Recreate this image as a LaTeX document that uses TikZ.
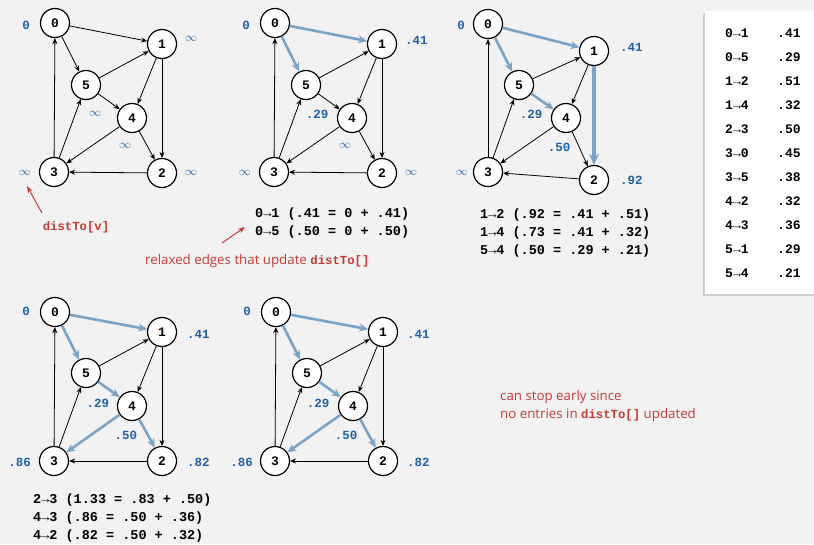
\documentclass[tikz,border=0pt]{standalone}
\usepackage{fontspec}
\setmainfont{Open Sans}
\setmonofont{Liberation Mono}
\usetikzlibrary{arrows.meta, shadows}
\definecolor{bggray}{RGB}{242,242,242}
\definecolor{sptblue}{RGB}{122,163,200}
\definecolor{distblue}{RGB}{30,98,168}
\definecolor{notered}{RGB}{196,58,52}
\newcommand{\codered}[1]{{\fontsize{12.3}{12.3}\selectfont\ttfamily\bfseries #1}}

\begin{document}
\begin{tikzpicture}[
    x=1pt, y=-1pt,
    vertex/.style={circle, draw, line width=1.2pt, fill=white, minimum size=29pt, inner sep=0pt, font=\fontsize{13}{13}\selectfont\ttfamily\bfseries},
    distlabel/.style={inner sep=0pt, text=distblue, font=\fontsize{12.5}{12.5}\selectfont\ttfamily\bfseries},
    link/.style={-{Stealth[length=6pt, width=5pt]}, line width=0.8pt},
    spt/.style={-{Stealth[length=9pt, width=8pt]}, line width=2.6pt, draw=sptblue},
    relaxtext/.style={anchor=west, inner sep=0pt, align=left, font=\fontsize{13.5}{18}\selectfont\ttfamily\bfseries},
    remark/.style={anchor=west, inner sep=0pt, align=left, text=notered, font=\fontsize{13.3}{18}\selectfont},
    notearrow/.style={-{Stealth[length=7pt, width=5pt]}, line width=1pt, draw=notered},
    tablebox/.style={rectangle, fill=white, anchor=north west, minimum width=120pt, minimum height=283pt, drop shadow={shadow xshift=-2pt, shadow yshift=-2pt, opacity=0.3}},
    tabletext/.style={anchor=west, inner sep=0pt, font=\fontsize{13}{13}\selectfont\ttfamily\bfseries},
]
\useasboundingbox[fill=bggray] (0,0) rectangle (814,544);

% Graph 1: initial distances
\begin{scope}[name prefix=a-]
\foreach \v/\x/\y in {0/55/23, 1/162/44, 2/162/173, 3/54/172, 4/132/118, 5/86/85}
  \node[vertex] (\v) at (\x,\y) {\v};
\foreach \s/\t in {0/1, 0/5, 1/2, 1/4, 2/3, 3/0, 3/5, 4/2, 4/3, 5/1, 5/4}
  \draw[link] (\s) -- (\t);
\node[distlabel] (l0) at (26,25) {0};
\node[distlabel, anchor=west] (l1) at (185,39) {$\infty$};
\node[distlabel, anchor=west] (l2) at (185,173) {$\infty$};
\node[distlabel, anchor=east] (l3) at (31,173) {$\infty$};
\node[distlabel] (l4) at (125,146) {$\infty$};
\node[distlabel] (l5) at (95,114) {$\infty$};
\end{scope}

% Graph 2: relax edges from 0
\begin{scope}[shift={(220,0)}, name prefix=b-]
\foreach \v/\x/\y in {0/55/23, 1/162/44, 2/162/173, 3/54/172, 4/132/118, 5/86/85}
  \node[vertex] (\v) at (\x,\y) {\v};
\foreach \s/\t in {1/2, 1/4, 2/3, 3/0, 3/5, 4/2, 4/3, 5/1, 5/4}
  \draw[link] (\s) -- (\t);
\foreach \s/\t in {0/1, 0/5}
  \draw[spt] (\s) -- (\t);
\node[distlabel] (l0) at (26,25) {0};
\node[distlabel, anchor=west] (l1) at (185,40) {.41};
\node[distlabel, anchor=west] (l2) at (185,173) {$\infty$};
\node[distlabel, anchor=east] (l3) at (31,173) {$\infty$};
\node[distlabel] (l4) at (125,146) {$\infty$};
\node[distlabel] (l5) at (97,114) {.29};
\node[relaxtext] (relax) at (35,223) {0→1 (.41 = 0 + .41)\\0→5 (.50 = 0 + .50)};
\end{scope}

% Graph 3: relax edges from 1 and 5
\begin{scope}[shift={(433,0)}, name prefix=c-]
\foreach \v/\x/\y in {0/55/24, 1/161/51, 2/161/180, 3/55/172, 4/133/118, 5/86/85}
  \node[vertex] (\v) at (\x,\y) {\v};
\foreach \s/\t in {1/4, 2/3, 3/0, 3/5, 4/2, 4/3, 5/1}
  \draw[link] (\s) -- (\t);
\foreach \s/\t in {0/1, 0/5, 5/4}
  \draw[spt] (\s) -- (\t);
\draw[spt, line width=3.4pt, -{Stealth[length=11pt, width=10pt]}] (1) -- (2);
\node[distlabel] (l0) at (28,25) {0};
\node[distlabel, anchor=west] (l1) at (187,47) {.41};
\node[distlabel, anchor=west] (l2) at (187,180) {.92};
\node[distlabel, anchor=east] (l3) at (35,173) {$\infty$};
\node[distlabel] (l4) at (126,147) {.50};
\node[distlabel] (l5) at (98,114) {.29};
\node[relaxtext] (relax) at (47,233) {1→2 (.92 = .41 + .51)\\1→4 (.73 = .41 + .32)\\5→4 (.50 = .29 + .21)};
\end{scope}

% Graph 4: relax edges from 4
\begin{scope}[shift={(0,289)}, name prefix=d-]
\foreach \v/\x/\y in {0/55/23, 1/162/43, 2/162/172, 3/54/172, 4/132/117, 5/86/84}
  \node[vertex] (\v) at (\x,\y) {\v};
\foreach \s/\t in {1/2, 1/4, 2/3, 3/0, 3/5, 5/1}
  \draw[link] (\s) -- (\t);
\foreach \s/\t in {0/1, 0/5, 5/4, 4/3, 4/2}
  \draw[spt] (\s) -- (\t);
\node[distlabel] (l0) at (26,22) {0};
\node[distlabel, anchor=west] (l1) at (187,45) {.41};
\node[distlabel, anchor=west] (l2) at (187,173) {.82};
\node[distlabel, anchor=east] (l3) at (31,173) {.86};
\node[distlabel] (l4) at (126,146) {.50};
\node[distlabel] (l5) at (98,114) {.29};
\node[relaxtext] (relax) at (33,229) {2→3 (1.33 = .83 + .50)\\4→3 (.86 = .50 + .36)\\4→2 (.82 = .50 + .32)};
\end{scope}

% Graph 5: nothing left to update
\begin{scope}[shift={(221,289)}, name prefix=e-]
\foreach \v/\x/\y in {0/55/23, 1/162/43, 2/162/172, 3/54/172, 4/132/117, 5/86/84}
  \node[vertex] (\v) at (\x,\y) {\v};
\foreach \s/\t in {1/2, 1/4, 2/3, 3/0, 3/5, 5/1}
  \draw[link] (\s) -- (\t);
\foreach \s/\t in {0/1, 0/5, 5/4, 4/3, 4/2}
  \draw[spt] (\s) -- (\t);
\node[distlabel] (l0) at (26,22) {0};
\node[distlabel, anchor=west] (l1) at (186,45) {.41};
\node[distlabel, anchor=west] (l2) at (186,173) {.82};
\node[distlabel, anchor=east] (l3) at (32,173) {.86};
\node[distlabel] (l4) at (125,146) {.50};
\node[distlabel] (l5) at (97,114) {.29};
\end{scope}

% Annotations
\node[text=notered, inner sep=0pt] (distv) at (76,227) {\codered{distTo[v]}};
\coordinate (distv tail) at (42,213);
\coordinate (distv head) at (27,186);
\draw[notearrow] (distv tail) -- (distv head);
\node[remark] (relaxnote) at (145,261) {relaxed edges that update \codered{distTo[]}};
\coordinate (relax tail) at (222,243);
\coordinate (relax head) at (245,227);
\draw[notearrow] (relax tail) -- (relax head);
\node[remark] (stopnote) at (500,406) {can stop early since\\no entries in \codered{distTo[]} updated};

% Edge-weighted digraph
\node[tablebox] (table) at (705,11) {};
\foreach \e/\w [count=\i from 0] in {0→1/.41, 0→5/.29, 1→2/.51, 1→4/.32, 2→3/.50, 3→0/.45, 3→5/.38, 4→2/.32, 4→3/.36, 5→1/.29, 5→4/.21} {
  \node[tabletext] (e\i) at (725,33+24*\i) {\e};
  \node[tabletext] (w\i) at (777,33+24*\i) {\w};
}

\end{tikzpicture}
\end{document}
